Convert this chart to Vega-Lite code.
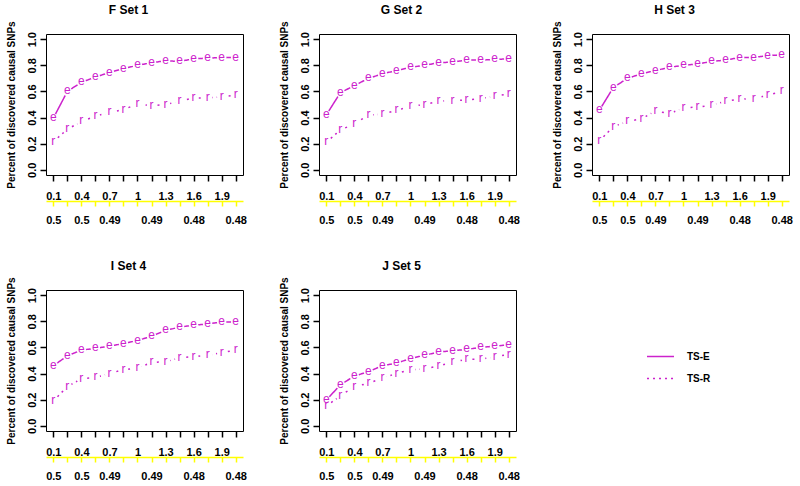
{
  "$schema": "https://vega.github.io/schema/vega-lite/v6.json",
  "padding": {"left": 5, "top": 3, "right": 5, "bottom": 2},
  "background": "white",
  "datasets": {
    "d": [
      {"panel":"F","method":"TS-E","x":0.1,"y":0.395},{"panel":"F","method":"TS-E","x":0.25,"y":0.6},{"panel":"F","method":"TS-E","x":0.4,"y":0.67},{"panel":"F","method":"TS-E","x":0.55,"y":0.71},{"panel":"F","method":"TS-E","x":0.7,"y":0.745},{"panel":"F","method":"TS-E","x":0.85,"y":0.775},{"panel":"F","method":"TS-E","x":1.0,"y":0.8},{"panel":"F","method":"TS-E","x":1.15,"y":0.82},{"panel":"F","method":"TS-E","x":1.3,"y":0.835},{"panel":"F","method":"TS-E","x":1.45,"y":0.83},{"panel":"F","method":"TS-E","x":1.6,"y":0.85},{"panel":"F","method":"TS-E","x":1.75,"y":0.855},{"panel":"F","method":"TS-E","x":1.9,"y":0.86},{"panel":"F","method":"TS-E","x":2.05,"y":0.86},
      {"panel":"F","method":"TS-R","x":0.1,"y":0.215},{"panel":"F","method":"TS-R","x":0.25,"y":0.31},{"panel":"F","method":"TS-R","x":0.4,"y":0.37},{"panel":"F","method":"TS-R","x":0.55,"y":0.41},{"panel":"F","method":"TS-R","x":0.7,"y":0.44},{"panel":"F","method":"TS-R","x":0.85,"y":0.46},{"panel":"F","method":"TS-R","x":1.0,"y":0.505},{"panel":"F","method":"TS-R","x":1.15,"y":0.49},{"panel":"F","method":"TS-R","x":1.3,"y":0.5},{"panel":"F","method":"TS-R","x":1.45,"y":0.525},{"panel":"F","method":"TS-R","x":1.6,"y":0.55},{"panel":"F","method":"TS-R","x":1.75,"y":0.55},{"panel":"F","method":"TS-R","x":1.9,"y":0.56},{"panel":"F","method":"TS-R","x":2.05,"y":0.57},
      {"panel":"G","method":"TS-E","x":0.1,"y":0.42},{"panel":"G","method":"TS-E","x":0.25,"y":0.59},{"panel":"G","method":"TS-E","x":0.4,"y":0.645},{"panel":"G","method":"TS-E","x":0.55,"y":0.7},{"panel":"G","method":"TS-E","x":0.7,"y":0.735},{"panel":"G","method":"TS-E","x":0.85,"y":0.76},{"panel":"G","method":"TS-E","x":1.0,"y":0.785},{"panel":"G","method":"TS-E","x":1.15,"y":0.8},{"panel":"G","method":"TS-E","x":1.3,"y":0.82},{"panel":"G","method":"TS-E","x":1.45,"y":0.825},{"panel":"G","method":"TS-E","x":1.6,"y":0.84},{"panel":"G","method":"TS-E","x":1.75,"y":0.84},{"panel":"G","method":"TS-E","x":1.9,"y":0.845},{"panel":"G","method":"TS-E","x":2.05,"y":0.85},
      {"panel":"G","method":"TS-R","x":0.1,"y":0.21},{"panel":"G","method":"TS-R","x":0.25,"y":0.305},{"panel":"G","method":"TS-R","x":0.4,"y":0.35},{"panel":"G","method":"TS-R","x":0.55,"y":0.42},{"panel":"G","method":"TS-R","x":0.7,"y":0.425},{"panel":"G","method":"TS-R","x":0.85,"y":0.455},{"panel":"G","method":"TS-R","x":1.0,"y":0.485},{"panel":"G","method":"TS-R","x":1.15,"y":0.5},{"panel":"G","method":"TS-R","x":1.3,"y":0.525},{"panel":"G","method":"TS-R","x":1.45,"y":0.53},{"panel":"G","method":"TS-R","x":1.6,"y":0.535},{"panel":"G","method":"TS-R","x":1.75,"y":0.545},{"panel":"G","method":"TS-R","x":1.9,"y":0.565},{"panel":"G","method":"TS-R","x":2.05,"y":0.58},
      {"panel":"H","method":"TS-E","x":0.1,"y":0.455},{"panel":"H","method":"TS-E","x":0.25,"y":0.63},{"panel":"H","method":"TS-E","x":0.4,"y":0.7},{"panel":"H","method":"TS-E","x":0.55,"y":0.735},{"panel":"H","method":"TS-E","x":0.7,"y":0.76},{"panel":"H","method":"TS-E","x":0.85,"y":0.785},{"panel":"H","method":"TS-E","x":1.0,"y":0.8},{"panel":"H","method":"TS-E","x":1.15,"y":0.81},{"panel":"H","method":"TS-E","x":1.3,"y":0.83},{"panel":"H","method":"TS-E","x":1.45,"y":0.84},{"panel":"H","method":"TS-E","x":1.6,"y":0.86},{"panel":"H","method":"TS-E","x":1.75,"y":0.86},{"panel":"H","method":"TS-E","x":1.9,"y":0.875},{"panel":"H","method":"TS-E","x":2.05,"y":0.88},
      {"panel":"H","method":"TS-R","x":0.1,"y":0.22},{"panel":"H","method":"TS-R","x":0.25,"y":0.33},{"panel":"H","method":"TS-R","x":0.4,"y":0.37},{"panel":"H","method":"TS-R","x":0.55,"y":0.39},{"panel":"H","method":"TS-R","x":0.7,"y":0.45},{"panel":"H","method":"TS-R","x":0.85,"y":0.43},{"panel":"H","method":"TS-R","x":1.0,"y":0.475},{"panel":"H","method":"TS-R","x":1.15,"y":0.48},{"panel":"H","method":"TS-R","x":1.3,"y":0.495},{"panel":"H","method":"TS-R","x":1.45,"y":0.525},{"panel":"H","method":"TS-R","x":1.6,"y":0.54},{"panel":"H","method":"TS-R","x":1.75,"y":0.545},{"panel":"H","method":"TS-R","x":1.9,"y":0.57},{"panel":"H","method":"TS-R","x":2.05,"y":0.6},
      {"panel":"I","method":"TS-E","x":0.1,"y":0.46},{"panel":"I","method":"TS-E","x":0.25,"y":0.535},{"panel":"I","method":"TS-E","x":0.4,"y":0.58},{"panel":"I","method":"TS-E","x":0.55,"y":0.593},{"panel":"I","method":"TS-E","x":0.7,"y":0.61},{"panel":"I","method":"TS-E","x":0.85,"y":0.63},{"panel":"I","method":"TS-E","x":1.0,"y":0.653},{"panel":"I","method":"TS-E","x":1.15,"y":0.686},{"panel":"I","method":"TS-E","x":1.3,"y":0.73},{"panel":"I","method":"TS-E","x":1.45,"y":0.756},{"panel":"I","method":"TS-E","x":1.6,"y":0.77},{"panel":"I","method":"TS-E","x":1.75,"y":0.78},{"panel":"I","method":"TS-E","x":1.9,"y":0.795},{"panel":"I","method":"TS-E","x":2.05,"y":0.795},
      {"panel":"I","method":"TS-R","x":0.1,"y":0.19},{"panel":"I","method":"TS-R","x":0.25,"y":0.3},{"panel":"I","method":"TS-R","x":0.4,"y":0.36},{"panel":"I","method":"TS-R","x":0.55,"y":0.37},{"panel":"I","method":"TS-R","x":0.7,"y":0.4},{"panel":"I","method":"TS-R","x":0.85,"y":0.43},{"panel":"I","method":"TS-R","x":1.0,"y":0.44},{"panel":"I","method":"TS-R","x":1.15,"y":0.485},{"panel":"I","method":"TS-R","x":1.3,"y":0.49},{"panel":"I","method":"TS-R","x":1.45,"y":0.52},{"panel":"I","method":"TS-R","x":1.6,"y":0.53},{"panel":"I","method":"TS-R","x":1.75,"y":0.54},{"panel":"I","method":"TS-R","x":1.9,"y":0.56},{"panel":"I","method":"TS-R","x":2.05,"y":0.58},
      {"panel":"J","method":"TS-E","x":0.1,"y":0.195},{"panel":"J","method":"TS-E","x":0.25,"y":0.315},{"panel":"J","method":"TS-E","x":0.4,"y":0.38},{"panel":"J","method":"TS-E","x":0.55,"y":0.415},{"panel":"J","method":"TS-E","x":0.7,"y":0.46},{"panel":"J","method":"TS-E","x":0.85,"y":0.48},{"panel":"J","method":"TS-E","x":1.0,"y":0.515},{"panel":"J","method":"TS-E","x":1.15,"y":0.54},{"panel":"J","method":"TS-E","x":1.3,"y":0.565},{"panel":"J","method":"TS-E","x":1.45,"y":0.575},{"panel":"J","method":"TS-E","x":1.6,"y":0.585},{"panel":"J","method":"TS-E","x":1.75,"y":0.6},{"panel":"J","method":"TS-E","x":1.9,"y":0.61},{"panel":"J","method":"TS-E","x":2.05,"y":0.62},
      {"panel":"J","method":"TS-R","x":0.1,"y":0.15},{"panel":"J","method":"TS-R","x":0.25,"y":0.23},{"panel":"J","method":"TS-R","x":0.4,"y":0.3},{"panel":"J","method":"TS-R","x":0.55,"y":0.325},{"panel":"J","method":"TS-R","x":0.7,"y":0.365},{"panel":"J","method":"TS-R","x":0.85,"y":0.4},{"panel":"J","method":"TS-R","x":1.0,"y":0.43},{"panel":"J","method":"TS-R","x":1.15,"y":0.435},{"panel":"J","method":"TS-R","x":1.3,"y":0.46},{"panel":"J","method":"TS-R","x":1.45,"y":0.485},{"panel":"J","method":"TS-R","x":1.6,"y":0.51},{"panel":"J","method":"TS-R","x":1.75,"y":0.51},{"panel":"J","method":"TS-R","x":1.9,"y":0.53},{"panel":"J","method":"TS-R","x":2.05,"y":0.545}
    ]
  },
  "data": {"name": "d"},
  "vconcat": [
    {
      "hconcat": [
        {
          "width": 197, "height": 141,
          "title": {"text": "F  Set  1"},
          "transform": [{"filter": "datum.panel == 'F'"}],
          "layer": [
            {
              "encoding": {
                "x": {"field": "x", "type": "quantitative", "scale": {"domain": [0.022, 2.128], "nice": false, "zero": false}, "axis": {"orient": "bottom", "values": [0.1,0.25,0.4,0.55,0.7,0.85,1,1.15,1.3,1.45,1.6,1.75,1.9,2.05], "format": "~g", "labelExpr": "round(datum.value*100)%30==10 ? datum.label : ''", "domain": false, "tickColor": "black", "tickSize": 6, "tickWidth": 1.5, "labelPadding": 9, "title": null}},
                "y": {"field": "y", "type": "quantitative", "scale": {"domain": [-0.04, 1.04], "nice": false, "zero": false}, "axis": {"values": [0,0.2,0.4,0.6,0.8,1], "format": ".1f", "title": "Percent of discovered causal SNPs"}}
              },
              "layer": [
                {"mark": {"type": "line", "color": "#cc22cc", "strokeWidth": 1.5, "strokeCap": "butt"}, "encoding": {"strokeDash": {"field": "method", "type": "nominal", "scale": {"domain": ["TS-E","TS-R"], "range": [[1,0],[2,4]]}, "legend": {"title": null}}}},
                {"mark": {"type": "point", "shape": "circle", "filled": true, "color": "white", "opacity": 1, "size": 90}},
                {"mark": {"type": "text", "color": "#cc22cc", "fontSize": 12, "baseline": "middle", "dy": -1}, "encoding": {"text": {"condition": {"test": "datum.method == 'TS-E'", "value": "e"}, "value": "r"}}}
              ]
            },
            {
              "mark": {"type": "point", "opacity": 0},
              "encoding": {
                "x": {"field": "x", "type": "quantitative", "scale": {"domain": [0.022, 2.128], "nice": false, "zero": false}, "axis": {"orient": "bottom", "offset": 26, "values": [0.1,0.25,0.4,0.55,0.7,0.85,1,1.15,1.3,1.45,1.6,1.75,1.9,2.05], "labelExpr": "datum.value==0.1 ? '0.5' : datum.value==0.4 ? '0.5' : datum.value==0.7 ? '0.49' : datum.value==1.15 ? '0.49' : datum.value==1.6 ? '0.48' : datum.value==2.05 ? '0.48' : ''", "domain": true, "domainColor": "#ffff00", "domainWidth": 1.5, "tickColor": "#ffff00", "tickSize": 5, "tickWidth": 1.5, "labelPadding": 8, "title": null}}
              }
            }
          ],
          "resolve": {"scale": {"x": "independent"}, "axis": {"x": "independent"}}
        },
        {
          "width": 197, "height": 141,
          "title": {"text": "G  Set  2"},
          "transform": [{"filter": "datum.panel == 'G'"}],
          "layer": [
            {
              "encoding": {
                "x": {"field": "x", "type": "quantitative", "scale": {"domain": [0.022, 2.128], "nice": false, "zero": false}, "axis": {"orient": "bottom", "values": [0.1,0.25,0.4,0.55,0.7,0.85,1,1.15,1.3,1.45,1.6,1.75,1.9,2.05], "format": "~g", "labelExpr": "round(datum.value*100)%30==10 ? datum.label : ''", "domain": false, "tickColor": "black", "tickSize": 6, "tickWidth": 1.5, "labelPadding": 9, "title": null}},
                "y": {"field": "y", "type": "quantitative", "scale": {"domain": [-0.04, 1.04], "nice": false, "zero": false}, "axis": {"values": [0,0.2,0.4,0.6,0.8,1], "format": ".1f", "title": "Percent of discovered causal SNPs"}}
              },
              "layer": [
                {"mark": {"type": "line", "color": "#cc22cc", "strokeWidth": 1.5, "strokeCap": "butt"}, "encoding": {"strokeDash": {"field": "method", "type": "nominal", "scale": {"domain": ["TS-E","TS-R"], "range": [[1,0],[2,4]]}, "legend": {"title": null}}}},
                {"mark": {"type": "point", "shape": "circle", "filled": true, "color": "white", "opacity": 1, "size": 90}},
                {"mark": {"type": "text", "color": "#cc22cc", "fontSize": 12, "baseline": "middle", "dy": -1}, "encoding": {"text": {"condition": {"test": "datum.method == 'TS-E'", "value": "e"}, "value": "r"}}}
              ]
            },
            {
              "mark": {"type": "point", "opacity": 0},
              "encoding": {
                "x": {"field": "x", "type": "quantitative", "scale": {"domain": [0.022, 2.128], "nice": false, "zero": false}, "axis": {"orient": "bottom", "offset": 26, "values": [0.1,0.25,0.4,0.55,0.7,0.85,1,1.15,1.3,1.45,1.6,1.75,1.9,2.05], "labelExpr": "datum.value==0.1 ? '0.5' : datum.value==0.4 ? '0.5' : datum.value==0.7 ? '0.49' : datum.value==1.15 ? '0.49' : datum.value==1.6 ? '0.48' : datum.value==2.05 ? '0.48' : ''", "domain": true, "domainColor": "#ffff00", "domainWidth": 1.5, "tickColor": "#ffff00", "tickSize": 5, "tickWidth": 1.5, "labelPadding": 8, "title": null}}
              }
            }
          ],
          "resolve": {"scale": {"x": "independent"}, "axis": {"x": "independent"}}
        },
        {
          "width": 197, "height": 141,
          "title": {"text": "H  Set  3"},
          "transform": [{"filter": "datum.panel == 'H'"}],
          "layer": [
            {
              "encoding": {
                "x": {"field": "x", "type": "quantitative", "scale": {"domain": [0.022, 2.128], "nice": false, "zero": false}, "axis": {"orient": "bottom", "values": [0.1,0.25,0.4,0.55,0.7,0.85,1,1.15,1.3,1.45,1.6,1.75,1.9,2.05], "format": "~g", "labelExpr": "round(datum.value*100)%30==10 ? datum.label : ''", "domain": false, "tickColor": "black", "tickSize": 6, "tickWidth": 1.5, "labelPadding": 9, "title": null}},
                "y": {"field": "y", "type": "quantitative", "scale": {"domain": [-0.04, 1.04], "nice": false, "zero": false}, "axis": {"values": [0,0.2,0.4,0.6,0.8,1], "format": ".1f", "title": "Percent of discovered causal SNPs"}}
              },
              "layer": [
                {"mark": {"type": "line", "color": "#cc22cc", "strokeWidth": 1.5, "strokeCap": "butt"}, "encoding": {"strokeDash": {"field": "method", "type": "nominal", "scale": {"domain": ["TS-E","TS-R"], "range": [[1,0],[2,4]]}, "legend": {"title": null}}}},
                {"mark": {"type": "point", "shape": "circle", "filled": true, "color": "white", "opacity": 1, "size": 90}},
                {"mark": {"type": "text", "color": "#cc22cc", "fontSize": 12, "baseline": "middle", "dy": -1}, "encoding": {"text": {"condition": {"test": "datum.method == 'TS-E'", "value": "e"}, "value": "r"}}}
              ]
            },
            {
              "mark": {"type": "point", "opacity": 0},
              "encoding": {
                "x": {"field": "x", "type": "quantitative", "scale": {"domain": [0.022, 2.128], "nice": false, "zero": false}, "axis": {"orient": "bottom", "offset": 26, "values": [0.1,0.25,0.4,0.55,0.7,0.85,1,1.15,1.3,1.45,1.6,1.75,1.9,2.05], "labelExpr": "datum.value==0.1 ? '0.5' : datum.value==0.4 ? '0.5' : datum.value==0.7 ? '0.49' : datum.value==1.15 ? '0.49' : datum.value==1.6 ? '0.48' : datum.value==2.05 ? '0.48' : ''", "domain": true, "domainColor": "#ffff00", "domainWidth": 1.5, "tickColor": "#ffff00", "tickSize": 5, "tickWidth": 1.5, "labelPadding": 8, "title": null}}
              }
            }
          ],
          "resolve": {"scale": {"x": "independent"}, "axis": {"x": "independent"}}
        }
      ]
    },
    {
      "hconcat": [
        {
          "width": 197, "height": 141,
          "title": {"text": "I  Set  4"},
          "transform": [{"filter": "datum.panel == 'I'"}],
          "layer": [
            {
              "encoding": {
                "x": {"field": "x", "type": "quantitative", "scale": {"domain": [0.022, 2.128], "nice": false, "zero": false}, "axis": {"orient": "bottom", "values": [0.1,0.25,0.4,0.55,0.7,0.85,1,1.15,1.3,1.45,1.6,1.75,1.9,2.05], "format": "~g", "labelExpr": "round(datum.value*100)%30==10 ? datum.label : ''", "domain": false, "tickColor": "black", "tickSize": 6, "tickWidth": 1.5, "labelPadding": 9, "title": null}},
                "y": {"field": "y", "type": "quantitative", "scale": {"domain": [-0.04, 1.04], "nice": false, "zero": false}, "axis": {"values": [0,0.2,0.4,0.6,0.8,1], "format": ".1f", "title": "Percent of discovered causal SNPs"}}
              },
              "layer": [
                {"mark": {"type": "line", "color": "#cc22cc", "strokeWidth": 1.5, "strokeCap": "butt"}, "encoding": {"strokeDash": {"field": "method", "type": "nominal", "scale": {"domain": ["TS-E","TS-R"], "range": [[1,0],[2,4]]}, "legend": {"title": null}}}},
                {"mark": {"type": "point", "shape": "circle", "filled": true, "color": "white", "opacity": 1, "size": 90}},
                {"mark": {"type": "text", "color": "#cc22cc", "fontSize": 12, "baseline": "middle", "dy": -1}, "encoding": {"text": {"condition": {"test": "datum.method == 'TS-E'", "value": "e"}, "value": "r"}}}
              ]
            },
            {
              "mark": {"type": "point", "opacity": 0},
              "encoding": {
                "x": {"field": "x", "type": "quantitative", "scale": {"domain": [0.022, 2.128], "nice": false, "zero": false}, "axis": {"orient": "bottom", "offset": 26, "values": [0.1,0.25,0.4,0.55,0.7,0.85,1,1.15,1.3,1.45,1.6,1.75,1.9,2.05], "labelExpr": "datum.value==0.1 ? '0.5' : datum.value==0.4 ? '0.5' : datum.value==0.7 ? '0.49' : datum.value==1.15 ? '0.49' : datum.value==1.6 ? '0.48' : datum.value==2.05 ? '0.48' : ''", "domain": true, "domainColor": "#ffff00", "domainWidth": 1.5, "tickColor": "#ffff00", "tickSize": 5, "tickWidth": 1.5, "labelPadding": 8, "title": null}}
              }
            }
          ],
          "resolve": {"scale": {"x": "independent"}, "axis": {"x": "independent"}}
        },
        {
          "width": 197, "height": 141,
          "title": {"text": "J  Set  5"},
          "transform": [{"filter": "datum.panel == 'J'"}],
          "layer": [
            {
              "encoding": {
                "x": {"field": "x", "type": "quantitative", "scale": {"domain": [0.022, 2.128], "nice": false, "zero": false}, "axis": {"orient": "bottom", "values": [0.1,0.25,0.4,0.55,0.7,0.85,1,1.15,1.3,1.45,1.6,1.75,1.9,2.05], "format": "~g", "labelExpr": "round(datum.value*100)%30==10 ? datum.label : ''", "domain": false, "tickColor": "black", "tickSize": 6, "tickWidth": 1.5, "labelPadding": 9, "title": null}},
                "y": {"field": "y", "type": "quantitative", "scale": {"domain": [-0.04, 1.04], "nice": false, "zero": false}, "axis": {"values": [0,0.2,0.4,0.6,0.8,1], "format": ".1f", "title": "Percent of discovered causal SNPs"}}
              },
              "layer": [
                {"mark": {"type": "line", "color": "#cc22cc", "strokeWidth": 1.5, "strokeCap": "butt"}, "encoding": {"strokeDash": {"field": "method", "type": "nominal", "scale": {"domain": ["TS-E","TS-R"], "range": [[1,0],[2,4]]}, "legend": {"title": null}}}},
                {"mark": {"type": "point", "shape": "circle", "filled": true, "color": "white", "opacity": 1, "size": 90}},
                {"mark": {"type": "text", "color": "#cc22cc", "fontSize": 12, "baseline": "middle", "dy": -1}, "encoding": {"text": {"condition": {"test": "datum.method == 'TS-E'", "value": "e"}, "value": "r"}}}
              ]
            },
            {
              "mark": {"type": "point", "opacity": 0},
              "encoding": {
                "x": {"field": "x", "type": "quantitative", "scale": {"domain": [0.022, 2.128], "nice": false, "zero": false}, "axis": {"orient": "bottom", "offset": 26, "values": [0.1,0.25,0.4,0.55,0.7,0.85,1,1.15,1.3,1.45,1.6,1.75,1.9,2.05], "labelExpr": "datum.value==0.1 ? '0.5' : datum.value==0.4 ? '0.5' : datum.value==0.7 ? '0.49' : datum.value==1.15 ? '0.49' : datum.value==1.6 ? '0.48' : datum.value==2.05 ? '0.48' : ''", "domain": true, "domainColor": "#ffff00", "domainWidth": 1.5, "tickColor": "#ffff00", "tickSize": 5, "tickWidth": 1.5, "labelPadding": 8, "title": null}}
              }
            }
          ],
          "resolve": {"scale": {"x": "independent"}, "axis": {"x": "independent"}}
        }
      ]
    }
  ],
  "spacing": 33,
  "config": {
    "font": "Liberation Sans",
    "concat": {"spacing": 31},
    "view": {"stroke": "black", "strokeWidth": 1},
    "title": {"fontSize": 12, "fontWeight": "bold", "anchor": "middle", "frame": "group", "dx": -16, "offset": 4, "color": "black"},
    "axis": {"grid": false, "labelFontSize": 11, "labelFontWeight": "bold", "labelColor": "black", "labelFlush": false, "labelOverlap": false, "titleFontSize": 10, "titleFontWeight": "bold", "titleColor": "black"},
    "axisY": {"domain": false, "tickColor": "black", "tickSize": 6, "tickWidth": 1.5, "labelAngle": 270, "labelAlign": "center", "labelBaseline": "bottom", "labelPadding": 3, "titlePadding": 10},
    "legend": {"orient": "none", "legendX": 607, "legendY": 315, "symbolType": "M-2,0L2,0", "symbolStrokeColor": "#cc22cc", "symbolStrokeWidth": 1.5, "symbolSize": 182, "labelFontSize": 10, "labelFontWeight": "bold", "labelColor": "black", "rowPadding": 9, "labelOffset": 19, "padding": 0}
  }
}
